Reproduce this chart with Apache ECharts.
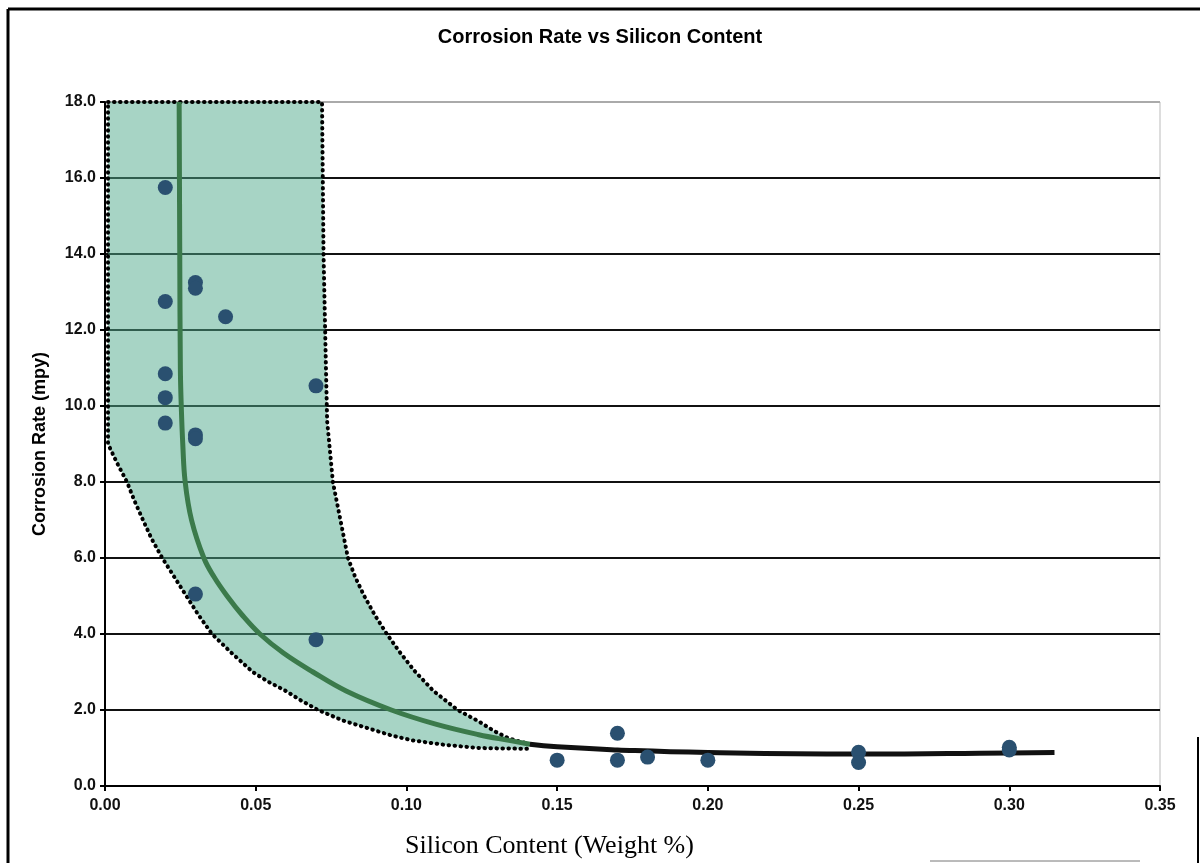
<!DOCTYPE html>
<html>
<head>
<meta charset="utf-8">
<title>Corrosion Rate vs Silicon Content</title>
<script src="https://cdn.jsdelivr.net/npm/echarts@6/dist/echarts.min.js"></script>
<style>
html, body { margin: 0; padding: 0; background: #fff; }
#corrosionChart { width: 1200px; height: 863px; }
</style>
</head>
<body>
<div id="corrosionChart"></div>
<script>
// measured points: [silicon %, corrosion rate mpy]
var measuredPoints = [
	[0.02, 15.75], [0.02, 12.75], [0.02, 10.85], [0.02, 10.22], [0.02, 9.55],
	[0.03, 13.25], [0.03, 13.1], [0.04, 12.35], [0.03, 9.24], [0.03, 9.14],
	[0.07, 10.53], [0.03, 5.05], [0.07, 3.85],
	[0.15, 0.68], [0.17, 1.39], [0.17, 0.68], [0.18, 0.76], [0.20, 0.68],
	[0.25, 0.89], [0.25, 0.62], [0.30, 1.02], [0.30, 0.95]
];
// trend line, steep part (green)
var trendGreen = [
	[0.0246, 18], [0.0248, 14], [0.0250, 11], [0.0253, 10], [0.0258, 9],
	[0.0266, 8], [0.0287, 7], [0.0328, 6], [0.0362, 5.5], [0.0405, 5],
	[0.0455, 4.5], [0.0514, 4], [0.0592, 3.5], [0.069, 3], [0.080, 2.5],
	[0.095, 2], [0.110, 1.62], [0.124, 1.35], [0.134, 1.2], [0.141, 1.1]
];
// trend line, flat part (black)
var trendBlack = [
	[0.141, 1.1], [0.15, 1.03], [0.17, 0.95], [0.20, 0.88], [0.25, 0.84],
	[0.30, 0.87], [0.315, 0.88]
];
// shaded band: right edge going down, then lower edge going back
var bandUpper = [
	[0.001, 18], [0.072, 18], [0.0725, 14], [0.0733, 11], [0.0737, 9.6],
	[0.0756, 8.0], [0.0781, 7.0], [0.0806, 6.0], [0.083, 5.5], [0.086, 5.0],
	[0.0895, 4.5], [0.0935, 4.0], [0.098, 3.5], [0.103, 3.0], [0.109, 2.5],
	[0.117, 2.0], [0.124, 1.7], [0.129, 1.45], [0.134, 1.25], [0.141, 1.1]
];
var bandLower = [
	[0.14, 0.98], [0.13, 0.99], [0.124, 1.0], [0.113, 1.08], [0.102, 1.2],
	[0.095, 1.33], [0.088, 1.5], [0.079, 1.72], [0.0707, 2.0], [0.065, 2.25],
	[0.060, 2.5], [0.054, 2.75], [0.049, 3.0], [0.042, 3.5], [0.0355, 4.0],
	[0.031, 4.5], [0.027, 5.0], [0.023, 5.5], [0.019, 6.0], [0.0155, 6.5],
	[0.0126, 7.0], [0.0098, 7.5], [0.0073, 8.0], [0.004, 8.5], [0.001, 9.0]
];
// horizontal grid colours, bottom to top (top one is the light border)
var gridColors = ['#111', '#111', '#111', '#111', '#111', '#111', '#111', '#111', '#111', '#aaa'];

var bandPolygon = bandUpper.concat(bandLower);

var corrosionChart = echarts.init(document.getElementById('corrosionChart'));

var optionCorrosion = {
	backgroundColor : '#fff',
	animation : false,
	title : {
		text : 'Corrosion Rate vs Silicon Content',
		left : 'center',
		top : 22,
		textStyle : {
			fontFamily : 'Liberation Sans, Arial, sans-serif',
			fontSize : 20,
			fontWeight : 'bold',
			color : '#000'
		}
	},
	grid : {
		left : 105,
		right : 40,
		top : 102,
		bottom : 77,
		show : true,
		borderColor : '#bbb',
		borderWidth : 1
	},
	xAxis : {
		type : 'value',
		min : 0,
		max : 0.35,
		interval : 0.05,
		axisLine : { lineStyle : { color : '#000', width : 2 } },
		axisTick : { show : true, length : 5, lineStyle : { color : '#000', width : 2 } },
		splitLine : { show : false },
		axisLabel : {
			margin : 12,
			fontFamily : 'Liberation Sans, Arial, sans-serif',
			fontSize : 16,
			fontWeight : 'bold',
			color : '#111',
			formatter : function(v) { return v.toFixed(2); }
		}
	},
	yAxis : {
		type : 'value',
		min : 0,
		max : 18,
		interval : 2,
		name : 'Corrosion Rate (mpy)',
		nameLocation : 'middle',
		nameGap : 56,
		nameTextStyle : {
			fontFamily : 'Liberation Sans, Arial, sans-serif',
			fontSize : 18,
			fontWeight : 'bold',
			color : '#000'
		},
		axisLine : { lineStyle : { color : '#000', width : 2 } },
		axisTick : { show : true, length : 5, lineStyle : { color : '#000', width : 2 } },
		splitLine : { show : true, lineStyle : { color : gridColors, width : 2 } },
		axisLabel : {
			margin : 9,
			fontFamily : 'Liberation Sans, Arial, sans-serif',
			fontSize : 16,
			fontWeight : 'bold',
			color : '#111',
			formatter : function(v) { return v.toFixed(1); }
		}
	},
	graphic : [ {
		type : 'text',
		left : 405,
		top : 833,
		style : {
			text : 'Silicon Content (Weight %)',
			font : '26px "Liberation Serif", "Times New Roman", serif',
			fill : '#000'
		}
	}, {
		type : 'line',
		shape : { x1 : 8, y1 : 9, x2 : 8, y2 : 863 },
		style : { stroke : '#000', lineWidth : 3 }
	}, {
		type : 'line',
		shape : { x1 : 8, y1 : 9, x2 : 1200, y2 : 9 },
		style : { stroke : '#000', lineWidth : 3 }
	}, {
		type : 'line',
		shape : { x1 : 1198, y1 : 737, x2 : 1198, y2 : 863 },
		style : { stroke : '#000', lineWidth : 2 }
	}, {
		type : 'line',
		shape : { x1 : 930, y1 : 861, x2 : 1140, y2 : 861 },
		style : { stroke : '#777', lineWidth : 1 }
	} ],
	series : [ {
		name : 'band',
		type : 'custom',
		z : 1,
		silent : true,
		data : [ [ 0, 0 ] ],
		renderItem : function(params, api) {
			var pts = [];
			for (var i = 0; i < bandPolygon.length; i++) {
				pts.push(api.coord(bandPolygon[i]));
			}
			return {
				type : 'polygon',
				shape : { points : pts },
				style : {
					fill : 'rgba(80,170,140,0.5)',
					stroke : '#000',
					lineWidth : 4,
					lineDash : [ 0.5, 5.5 ],
					lineCap : 'round'
				}
			};
		}
	}, {
		name : 'trend',
		type : 'line',
		z : 3,
		smooth : 0.4,
		showSymbol : false,
		data : trendGreen,
		lineStyle : { color : '#3b7a4b', width : 5 }
	}, {
		name : 'trendFlat',
		type : 'line',
		z : 3,
		smooth : true,
		showSymbol : false,
		data : trendBlack,
		lineStyle : { color : '#111', width : 5 }
	}, {
		name : 'measured',
		type : 'scatter',
		z : 4,
		symbolSize : 15,
		data : measuredPoints,
		itemStyle : { color : '#2a5070', opacity : 1 }
	} ]
};
corrosionChart.setOption(optionCorrosion);
</script>
</body>
</html>
